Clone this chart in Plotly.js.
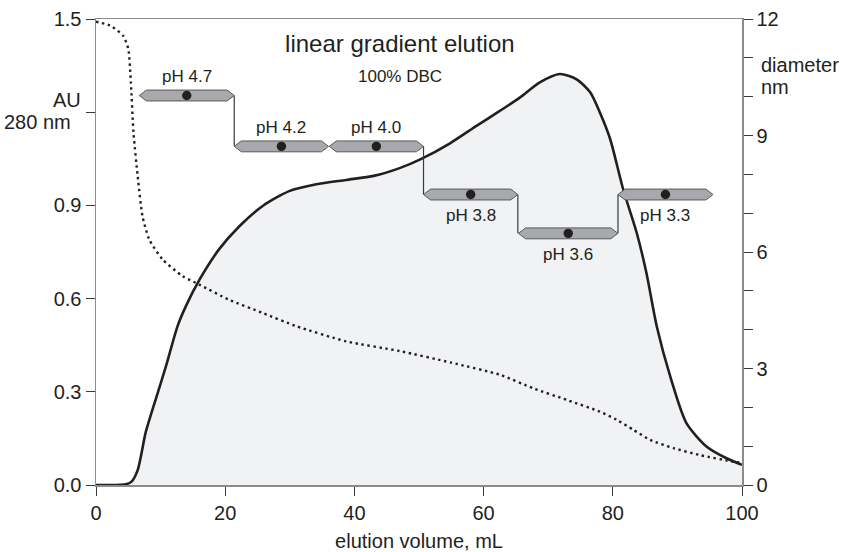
<!DOCTYPE html>
<html>
<head>
<meta charset="utf-8">
<script src="https://cdn.plot.ly/plotly-3.0.1.min.js"></script>
<style>html,body{margin:0;padding:0;background:#fff;}#chart{width:844px;height:552px;}</style>
</head>
<body>
<div id="chart"></div>
<script>
// absorbance (AU 280 nm) vs elution volume (mL)
const auVolume = [0, 3, 4.6, 5.5, 6.45, 7.7, 9.3, 10.8, 12.6, 13.9, 16, 19.1, 22.2, 25.8, 29.9, 34.1, 38.7, 43, 47, 50.2, 54.8, 58.9, 62.5, 65.6, 68.7, 71.8, 74.4, 76.5, 78, 79.6, 81.6, 83.7, 85.2, 86.8, 88.9, 91.4, 94.5, 97.6, 100];
const auValues = [0, 0, 0.002, 0.011, 0.048, 0.17, 0.28, 0.38, 0.51, 0.575, 0.66, 0.76, 0.833, 0.898, 0.946, 0.968, 0.982, 0.995, 1.02, 1.048, 1.10, 1.156, 1.204, 1.247, 1.296, 1.323, 1.306, 1.264, 1.199, 1.113, 0.952, 0.812, 0.683, 0.511, 0.349, 0.199, 0.124, 0.086, 0.065];

// particle diameter (nm) vs elution volume (mL)
const diamVolume = [0, 2.2, 4.2, 5, 5.4, 5.8, 6.45, 7.2, 8.25, 10.3, 13.4, 16, 20.6, 25.8, 31, 38.7, 47, 55, 62.5, 67.7, 72.9, 78, 80.6, 83.2, 85.8, 89.4, 93.5, 98.7, 100];
const diamValues = [11.93, 11.83, 11.57, 11.23, 10.37, 9.08, 7.96, 6.92, 6.32, 5.81, 5.38, 5.16, 4.77, 4.43, 4.09, 3.70, 3.45, 3.15, 2.84, 2.49, 2.19, 1.89, 1.68, 1.42, 1.16, 0.95, 0.77, 0.60, 0.57];

// pH fractions
const phLabels = ['pH 4.7', 'pH 4.2', 'pH 4.0', 'pH 3.8', 'pH 3.6', 'pH 3.3'];
const phStart  = [6.7, 21.4, 36.1, 50.7, 65.4, 80.8];
const phEnd    = [21.4, 36.0, 50.7, 65.3, 80.8, 95.5];
const phDiam   = [10.03, 8.72, 8.72, 7.48, 6.48, 7.48];
const phLabelAbove = [true, true, true, false, false, false];

// left axis ticks
const auTickVals = [0, 0.3, 0.6, 0.9, 1.2, 1.5];
const auTickText = ['0.0', '0.3', '0.6', '0.9', '', '1.5'];

const FONT = 'Liberation Sans, Arial, sans-serif';
const TXT = '#231f20';

const phCenter = phStart.map((s, i) => (s + phEnd[i]) / 2);

// connectors between consecutive bars
const connX = [], connY = [];
for (let i = 0; i < phStart.length - 1; i++) {
  if (phDiam[i] !== phDiam[i + 1]) {
    connX.push(phEnd[i], phEnd[i], null);
    connY.push(phDiam[i], phDiam[i + 1], null);
  }
}

const traces = [
  {
    x: auVolume, y: auValues, type: 'scatter', mode: 'lines',
    line: {color: TXT, width: 2.6, shape: 'spline', smoothing: 0.7},
    fill: 'tozeroy', fillcolor: '#f1f2f4', yaxis: 'y', hoverinfo: 'skip'
  },
  {
    x: diamVolume, y: diamValues, type: 'scatter', mode: 'lines',
    line: {color: TXT, width: 2.4, dash: '2.4px,3.6px', shape: 'spline', smoothing: 0.6},
    yaxis: 'y2', hoverinfo: 'skip'
  },
  {
    x: connX, y: connY, type: 'scatter', mode: 'lines',
    line: {color: '#3a3a3c', width: 1.2}, yaxis: 'y2', hoverinfo: 'skip'
  }
];

// bar shapes (hexagonal arrows) built from the pH arrays
const tip = 1.1, halfH = 0.14;
const shapes = phStart.map((s, i) => {
  const e = phEnd[i], d = phDiam[i];
  const path = `M ${s} ${d} L ${s + tip} ${d + halfH} L ${e - tip} ${d + halfH} L ${e} ${d} L ${e - tip} ${d - halfH} L ${s + tip} ${d - halfH} Z`;
  return {type: 'path', path: path, xref: 'x', yref: 'y2', fillcolor: '#a7a9ac',
          line: {color: '#58595b', width: 1}, layer: 'above'};
});

const dotShapes = phCenter.map((c, i) => ({
  type: 'circle', xref: 'x', yref: 'y2', xsizemode: 'pixel', ysizemode: 'pixel',
  xanchor: c, yanchor: phDiam[i], x0: -4.7, x1: 4.7, y0: -4.7, y1: 4.7,
  fillcolor: TXT, line: {color: TXT, width: 0}, layer: 'above'
}));

const annotations = phLabels.map((t, i) => ({
  x: phCenter[i], y: phDiam[i], xref: 'x', yref: 'y2', text: t, showarrow: false,
  yshift: phLabelAbove[i] ? 19 : -21, font: {family: FONT, size: 17, color: TXT}
}));

annotations.push(
  {x: 397 / 844, y: 1 - 68 / 552, xref: 'paper', yref: 'paper', text: '100% DBC', showarrow: false,
   font: {family: FONT, size: 17, color: TXT}, xanchor: 'center', yanchor: 'middle'},
  {x: -13 / 646, y: (485 - 100) / 466, xref: 'paper', yref: 'paper', text: 'AU', showarrow: false,
   font: {family: FONT, size: 20, color: TXT}, xanchor: 'right', yanchor: 'middle'},
  {x: -23 / 646, y: (485 - 122) / 466, xref: 'paper', yref: 'paper', text: '280 nm', showarrow: false,
   font: {family: FONT, size: 20, color: TXT}, xanchor: 'right', yanchor: 'middle'},
  {x: 1 + 17 / 646, y: (485 - 65) / 466, xref: 'paper', yref: 'paper', text: 'diameter', showarrow: false,
   font: {family: FONT, size: 20, color: TXT}, xanchor: 'left', yanchor: 'middle'},
  {x: 1 + 17 / 646, y: (485 - 87) / 466, xref: 'paper', yref: 'paper', text: 'nm', showarrow: false,
   font: {family: FONT, size: 20, color: TXT}, xanchor: 'left', yanchor: 'middle'}
);

const layout = {
  width: 844, height: 552,
  margin: {l: 96, r: 102, t: 19, b: 67},
  paper_bgcolor: '#fff', plot_bgcolor: '#fff',
  showlegend: false,
  font: {family: FONT, size: 20, color: TXT},
  title: {text: 'linear gradient elution', x: 397 / 844, xref: 'paper', y: 1 - 44 / 552,
          xanchor: 'center', yanchor: 'middle', font: {family: FONT, size: 24, color: TXT}},
  xaxis: {
    range: [0, 100], tickvals: [0, 20, 40, 60, 80, 100], ticks: 'outside', ticklen: 9,
    tickcolor: '#3a3a3c', tickwidth: 1, showline: true, linecolor: '#8a8c8e', linewidth: 1.5,
    mirror: true, showgrid: false, zeroline: false,
    tickfont: {family: FONT, size: 20, color: TXT},
    title: {text: 'elution volume, mL', font: {family: FONT, size: 20, color: TXT}, standoff: 15}
  },
  yaxis: {
    range: [0, 1.5], tickvals: auTickVals, ticktext: auTickText, ticks: 'outside', ticklen: 9,
    tickcolor: '#3a3a3c', tickwidth: 1, showline: true, linecolor: '#8a8c8e', linewidth: 1.5,
    showgrid: false, zeroline: false, tickfont: {family: FONT, size: 20, color: TXT}
  },
  yaxis2: {
    range: [0, 12], overlaying: 'y', side: 'right', tickvals: [0, 3, 6, 9, 12],
    ticks: 'outside', ticklen: 9, tickcolor: '#3a3a3c', tickwidth: 1,
    minor: {tickvals: [1, 2, 4, 5, 7, 8, 10, 11], ticks: 'outside', ticklen: 9, tickcolor: '#3a3a3c', tickwidth: 1},
    showline: true, linecolor: '#8a8c8e', linewidth: 1.5, showgrid: false, zeroline: false,
    tickfont: {family: FONT, size: 20, color: TXT}
  },
  shapes: shapes.concat(dotShapes),
  annotations: annotations
};

Plotly.newPlot('chart', traces, layout, {displayModeBar: false, staticPlot: true});
</script>
</body>
</html>
